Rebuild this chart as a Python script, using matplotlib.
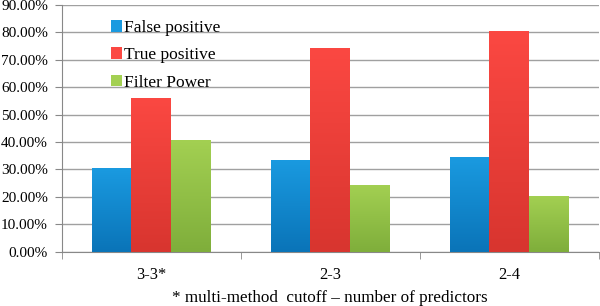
import numpy as np
import matplotlib
matplotlib.use("Agg")
from matplotlib import pyplot as plt
from matplotlib.colors import LinearSegmentedColormap
from matplotlib.ticker import FuncFormatter

plt.rcParams['font.family'] = ['Liberation Serif', 'DejaVu Serif']

categories = ['3-3*', '2-3', '2-4']
false_positive = [30.5, 33.6, 34.5]
true_positive = [56.2, 74.5, 80.6]
filter_power = [40.9, 24.5, 20.5]
series_names = ['False positive', 'True positive', 'Filter Power']

# (top colour, bottom colour) for the excel-style gradient
colors = [('#1a9ae0', '#0a74b8'), ('#fb4842', '#d8352f'), ('#a3d052', '#7fae3b')]

fig = plt.figure(figsize=(6, 3.06), dpi=100)
ax = fig.add_axes([0.103, 0.1775, 0.895, 0.806])

x = np.arange(len(categories))
width = 0.222
series = [false_positive, true_positive, filter_power]

handles = []
for i, (vals, name, (c_top, c_bot)) in enumerate(zip(series, series_names, colors)):
    bars = ax.bar(x + (i - 1) * width, vals, width, color=c_top, label=name,
                  zorder=2, linewidth=0)
    cmap = LinearSegmentedColormap.from_list('g%d' % i, [c_bot, c_top])
    grad = np.linspace(0, 1, 100).reshape(-1, 1)
    for b in bars:
        bx, by = b.get_x(), b.get_y()
        bw, bh = b.get_width(), b.get_height()
        im = ax.imshow(grad, cmap=cmap, origin='lower', aspect='auto',
                       extent=[bx, bx + bw, by, by + bh], zorder=3)
        im.set_clip_path(b)
    handles.append(bars)

ax.set_xlim(-0.5, 2.5)
ax.set_ylim(0, 90)
ax.set_yticks(np.arange(0, 91, 10))
ax.yaxis.set_major_formatter(FuncFormatter(lambda v, p: '%.2f%%' % v))
ax.yaxis.grid(True, color='#a0a0a0', linewidth=1.0, zorder=0)
ax.set_axisbelow(True)

ax.set_xticks(x)
ax.set_xticklabels(categories)
ax.set_xticks([-0.5, 0.5, 1.5, 2.5], minor=True)
ax.tick_params(axis='x', which='major', length=0, labelsize=11.8, pad=11)
ax.tick_params(axis='x', which='minor', length=5, color='#888888')
ax.tick_params(axis='y', length=5, color='#888888', labelsize=11, pad=5)

for s in ['top', 'right']:
    ax.spines[s].set_visible(False)
ax.spines['left'].set_color('#888888')
ax.spines['bottom'].set_color('#888888')

ax.set_xlabel('* multi-method  cutoff \u2013 number of predictors', fontsize=12.3, labelpad=5)

leg = ax.legend(handles=handles, loc='upper left', bbox_to_anchor=(0.091, 0.94),
                frameon=False, fontsize=12.5, handlelength=0.65, handleheight=0.65,
                handletextpad=0.1, labelspacing=0.66, borderaxespad=0, borderpad=0)

fig.savefig('out.png', dpi=100)
